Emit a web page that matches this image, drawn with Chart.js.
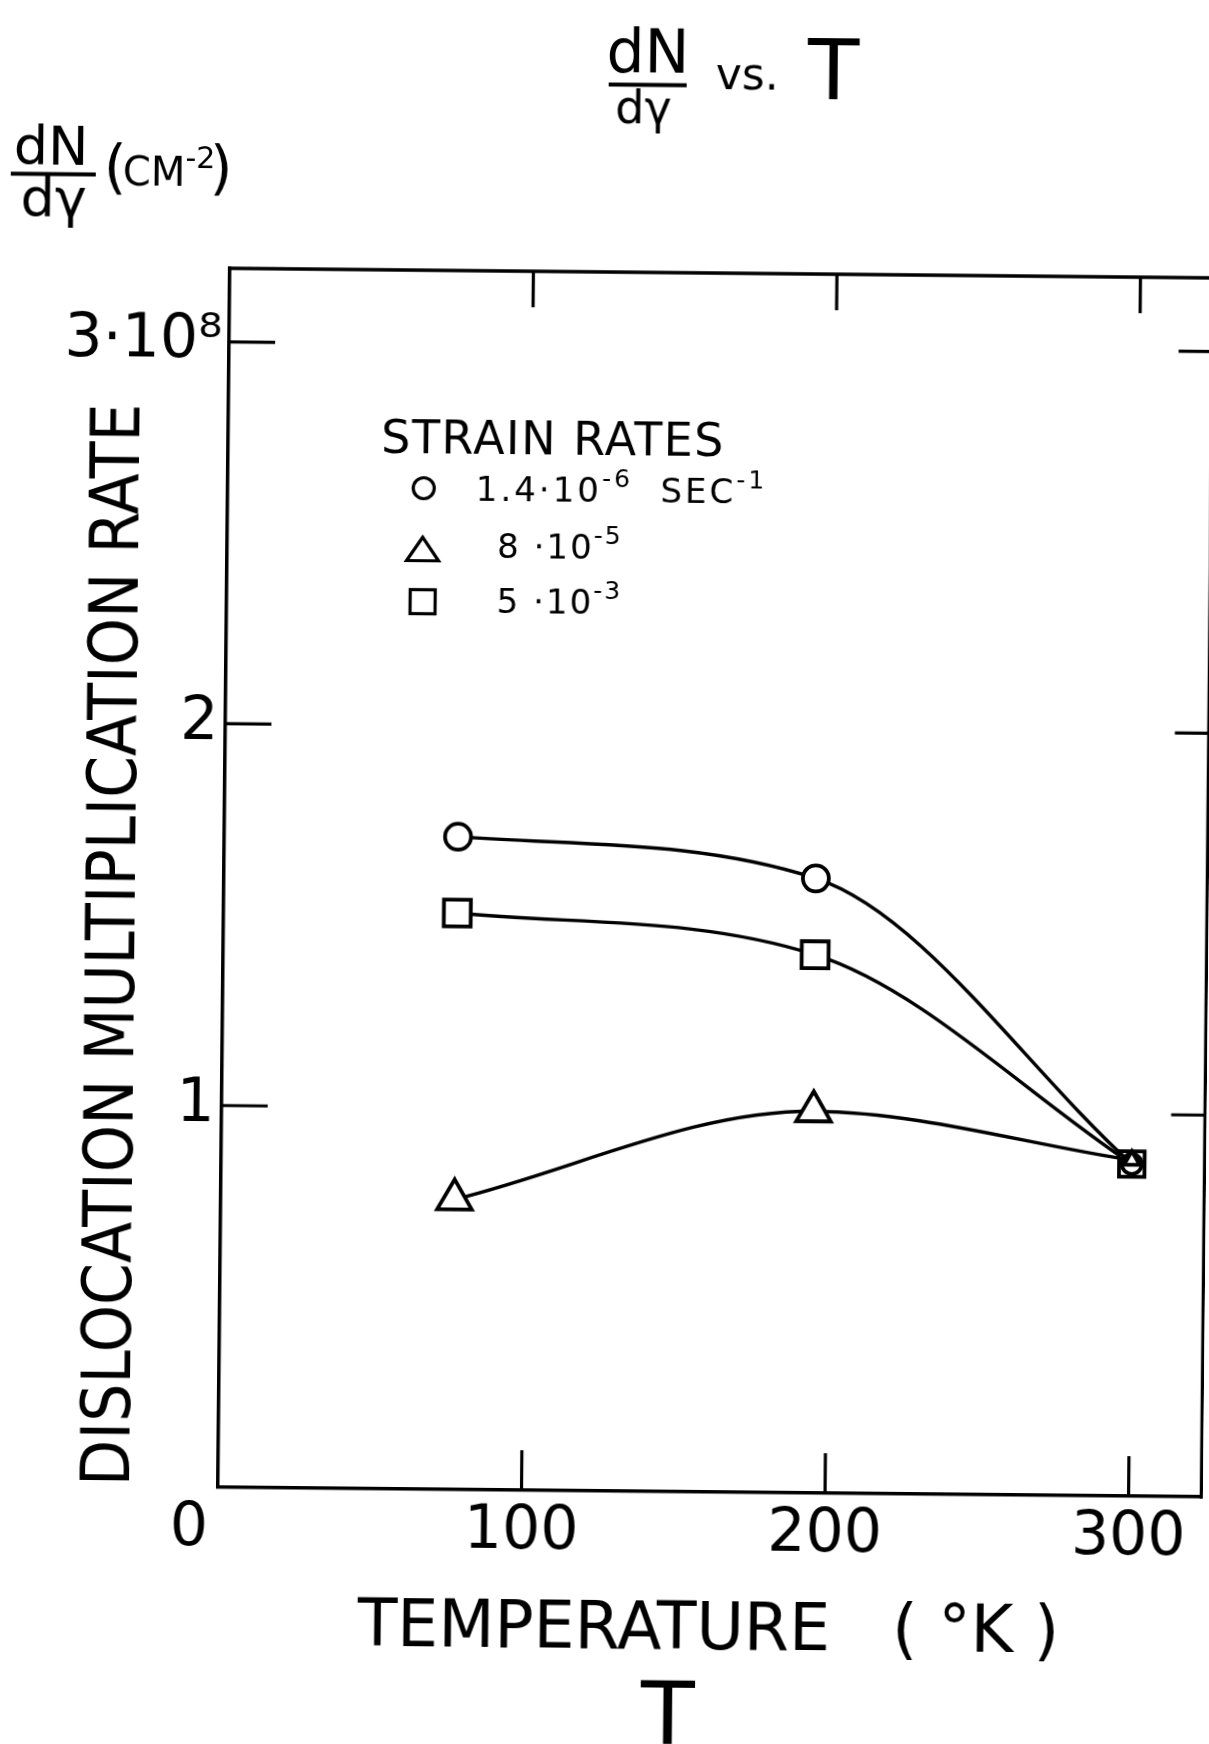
<!DOCTYPE html>
<html><head><meta charset="utf-8"><title>dN/dγ vs. T</title>
<script src="https://cdn.jsdelivr.net/npm/chart.js@4.4.1/dist/chart.umd.min.js"></script>
<style>
html,body{margin:0;padding:0;background:#fff;overflow:hidden;}
#c{display:block;transform:rotate(0.56deg);}
</style></head>
<body><canvas id="c" width="1209" height="1744"></canvas>
<script>
// ---------- data ----------
const temperatures = [77, 195, 300];
const rateSlow = [1.71, 1.61, 0.87];   // 1.4e-6 s^-1 (circles)
const rateMid  = [0.76, 1.00, 0.88];   // 8e-5 (triangles)
const rateFast = [1.51, 1.41, 0.87];   // 5e-3 (squares)
const seriesLabels = ['1.4·10⁻⁶  SEC⁻¹', '8 ·10⁻⁵', '5 ·10⁻³'];
const legendTitle = 'STRAIN RATES';
const xTickValues = [0, 100, 200, 300];
const xTickLabels = ['0', '100', '200', '300'];
const yTickValues = [1, 2, 3];
const yTickLabels = ['1', '2', '3·10⁸'];
const xTitle = 'TEMPERATURE   ( °K )';
const yTitle = 'DISLOCATION MULTIPLICATION RATE';

// ---------- fonts ----------
const FS = "'DejaVu Sans', sans-serif";
const FC = "'DejaVu Sans Condensed', 'DejaVu Sans', sans-serif";

const SUP = {'⁻':'-','⁰':'0','¹':'1','²':'2','³':'3','⁴':'4','⁵':'5','⁶':'6','⁷':'7','⁸':'8','⁹':'9'};
function rich(ctx, text, x, y, size, family, ls) {
  let cx = x;
  for (const ch of text) {
    const s = SUP[ch];
    if (s !== undefined) {
      ctx.font = `${Math.round(size*0.74)}px ${family}`;
      ctx.fillText(s, cx, y - size*0.45);
      cx += ctx.measureText(s).width + ls;
    } else {
      ctx.font = `${size}px ${family}`;
      ctx.fillText(ch, cx, y);
      cx += ctx.measureText(ch).width + ls;
    }
  }
  return cx;
}

const pts = arr => temperatures.map((t, i) => ({x: t, y: arr[i]}));
const bigR = {circle: 13, triangle: 20, rect: 19};
const smallR = {circle: 10, triangle: 9, rect: 18};
function makeSet(label, arr, style, order) {
  const r = c => (c.dataIndex === arr.length - 1 ? smallR[style] : bigR[style]);
  return {
    label, data: pts(arr), pointStyle: style, order,
    pointRadius: r, pointHoverRadius: r,
    pointBorderWidth: 3.8, pointBackgroundColor: '#fff', pointBorderColor: '#000',
    borderColor: '#000', borderWidth: 3.4, fill: false,
    cubicInterpolationMode: 'monotone', clip: false
  };
}

const frameAndText = {
  id: 'frameAndText',
  afterDraw(chart) {
    const {ctx, chartArea: a, scales: {x, y}} = chart;
    ctx.save();
    ctx.strokeStyle = '#000'; ctx.fillStyle = '#000'; ctx.lineWidth = 3.5; ctx.lineCap = 'butt';
    // top & right frame
    ctx.beginPath();
    ctx.moveTo(a.left - 1.75, a.top); ctx.lineTo(a.right + 1.75, a.top);
    ctx.moveTo(a.right, a.top); ctx.lineTo(a.right, a.bottom + 1.75);
    ctx.stroke();
    // inward tick marks
    ctx.lineWidth = 3.2;
    ctx.beginPath();
    for (const v of xTickValues) {
      if (v <= x.min) continue;
      const px = x.getPixelForValue(v);
      ctx.moveTo(px, a.bottom); ctx.lineTo(px, a.bottom - 40);
      ctx.moveTo(px, a.top); ctx.lineTo(px, a.top + 36);
    }
    for (const v of yTickValues) {
      const py = y.getPixelForValue(v);
      ctx.moveTo(a.left, py); ctx.lineTo(a.left + 46, py);
      ctx.moveTo(a.right, py); ctx.lineTo(a.right - 34, py);
    }
    ctx.stroke();

    // top title: dN/dγ vs. T
    ctx.textBaseline = 'alphabetic';
    ctx.textAlign = 'center';
    ctx.font = `60px ${FS}`;
    ctx.fillText('dN', 640, 72);
    ctx.fillRect(601, 82.5, 78, 4);
    ctx.font = `46px ${FS}`;
    ctx.fillText('dγ', 636, 123);
    ctx.textAlign = 'left';
    ctx.font = `44px ${FS}`;
    ctx.fillText('vs.', 708, 88);
    ctx.font = `84px ${FS}`;
    ctx.fillText('T', 800, 97);

    // upper-left unit: dN/dγ (cm^-2)
    ctx.textAlign = 'center';
    ctx.font = `54px ${FS}`;
    ctx.fillText('dN', 44, 170);
    ctx.fillRect(4, 177.5, 85, 4);
    ctx.fillText('dγ', 47, 222);
    ctx.textAlign = 'left';
    ctx.font = `58px ${FS}`;
    ctx.fillText('(', 97, 192);
    ctx.fillText(')', 203, 192);
    rich(ctx, 'CM⁻²', 116, 190, 40, FS, 0);

    // legend
    ctx.font = `46px ${FS}`;
    ctx.letterSpacing = '1.5px';
    ctx.fillText(legendTitle, 377, 455);
    ctx.letterSpacing = '0px';
    ctx.lineWidth = 3.2;
    ctx.beginPath(); ctx.arc(420, 490, 10.5, 0, Math.PI * 2); ctx.stroke();
    ctx.beginPath(); ctx.moveTo(419.5, 539); ctx.lineTo(403.5, 562.5); ctx.lineTo(435.5, 562.5); ctx.closePath(); ctx.stroke();
    ctx.strokeRect(407.5, 591.5, 25, 24);
    const tx = [472, 494, 494], ty = [502, 559, 614];
    chart.data.datasets.forEach((d, k) => rich(ctx, d.label, tx[k], ty[k], 34, FS, k === 0 ? 3 : 2));

    // big T under x title
    ctx.textAlign = 'center';
    ctx.font = `88px ${FS}`;
    ctx.fillText('T', 676, 1744);
    ctx.restore();
  }
};

new Chart(document.getElementById('c'), {
  type: 'line',
  data: {datasets: [
    makeSet(seriesLabels[0], rateSlow, 'circle', 1),
    makeSet(seriesLabels[1], rateMid, 'triangle', 0),
    makeSet(seriesLabels[2], rateFast, 'rect', 2)
  ]},
  options: {
    responsive: false, animation: false, devicePixelRatio: 1, events: [],
    layout: {autoPadding: false, padding: {top: 272, right: 1.5, bottom: 0, left: 0}},
    plugins: {legend: {display: false}, tooltip: {enabled: false}, title: {display: false}},
    scales: {
      x: {
        type: 'linear', position: 'bottom', min: 0, max: 324, bounds: 'data',
        afterFit: s => { s.height = 253; s.paddingLeft = 0; s.paddingRight = 0; },
        afterBuildTicks: s => { s.ticks = xTickValues.map(v => ({value: v})); },
        // the origin label sits left of the corner in the original, so it is padded on its right
        ticks: {callback: v => { const t = xTickLabels[xTickValues.indexOf(v)]; return v === 0 ? t + '   ' : t; },
                font: {family: FS, size: 60}, color: '#000', padding: 6, maxRotation: 0, autoSkip: false},
        grid: {display: false, drawTicks: false},
        border: {display: true, color: '#000', width: 3.5},
        title: {display: true, text: xTitle, font: {family: FS, size: 65}, color: '#000', padding: {top: 0, bottom: 74}}
      },
      y: {
        type: 'linear', position: 'left', min: 0, max: 3.193, bounds: 'data',
        afterFit: s => { s.width = 224; s.paddingTop = 0; s.paddingBottom = 0; },
        afterBuildTicks: s => { s.ticks = yTickValues.map(v => ({value: v})); },
        ticks: {callback: v => yTickLabels[yTickValues.indexOf(v)], font: {family: FS, size: 60}, color: '#000', padding: 7, autoSkip: false},
        grid: {display: false, drawTicks: false},
        border: {display: true, color: '#000', width: 3.5},
        title: {display: true, text: yTitle, align: 'start', font: {family: FC, size: 67}, color: '#000', padding: {top: 77, bottom: 0}}
      }
    }
  },
  plugins: [frameAndText]
});
</script></body></html>
